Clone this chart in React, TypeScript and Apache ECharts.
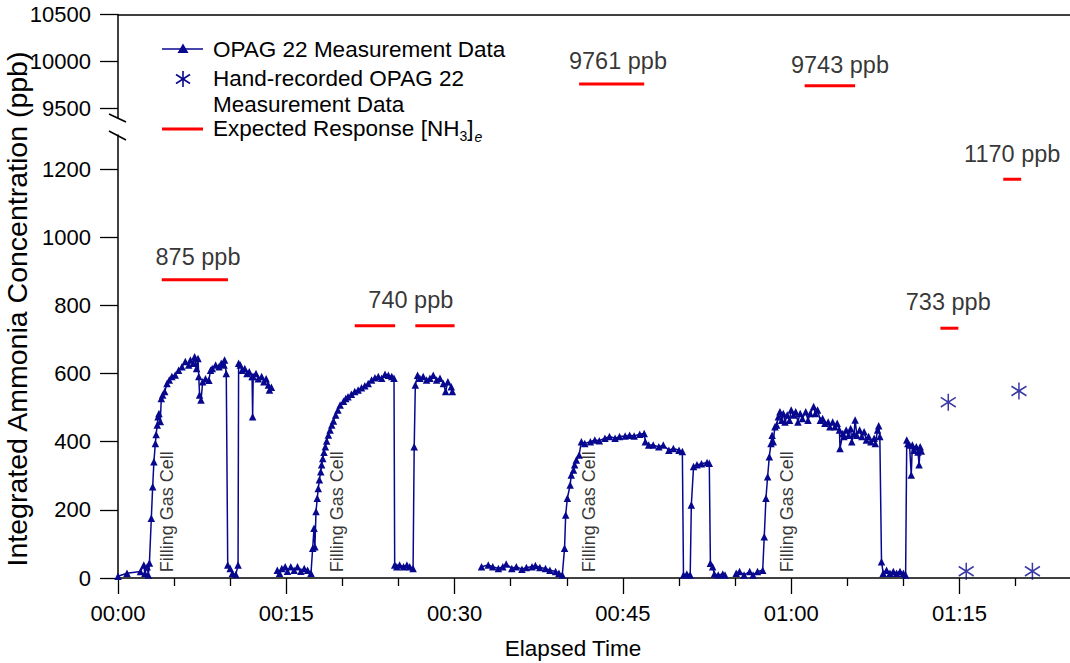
import React, { useEffect, useRef } from "react";
import * as echarts from "echarts";

// ---- data (elapsed minutes, ppb) ----
const seg1: number[][] = [
  [0, 5], [0.8, 14], [2.0, 19], [2.3, 38], [2.4, 14], [2.6, 33], [2.7, 9], [2.8, 44], [2.97, 175], [3.09, 268],
  [3.2, 341], [3.33, 395], [3.4, 421], [3.5, 449], [3.57, 473], [3.65, 483], [3.77, 459], [3.86, 527], [3.98, 537],
  [4.16, 547], [4.37, 571], [4.57, 581], [4.8, 591], [5.1, 596], [5.4, 610], [5.7, 620], [6.0, 635], [6.3, 625],
  [6.45, 640], [6.7, 630], [6.83, 649], [7.0, 615], [7.13, 644], [7.2, 591], [7.27, 537], [7.4, 522], [7.55, 576],
  [7.8, 585], [8.1, 580], [8.25, 610], [8.4, 615], [8.7, 625], [9.0, 620], [9.2, 630], [9.45, 625], [9.5, 640],
  [9.65, 600], [9.78, 38], [10.0, 28], [10.2, 14], [10.5, 10], [10.7, 38], [10.75, 630], [10.9, 625], [11.05, 610],
  [11.3, 615], [11.5, 600], [11.7, 605], [11.95, 591], [12.0, 473], [12.05, 591], [12.3, 600], [12.5, 585],
  [12.8, 591], [13.0, 576], [13.2, 585], [13.4, 566], [13.5, 552], [13.67, 560],
];
const seg2: number[][] = [
  [14.2, 23], [14.4, 14], [14.6, 28], [14.9, 33], [15.1, 20], [15.4, 33], [15.7, 23], [16.0, 33], [16.3, 20],
  [16.6, 28], [16.9, 23], [17.2, 14], [17.35, 87], [17.47, 146], [17.55, 92], [17.65, 195], [17.76, 234],
  [17.85, 263], [17.95, 288], [18.07, 312], [18.15, 332], [18.25, 351], [18.36, 369], [18.48, 385], [18.6, 402],
  [18.75, 420], [18.9, 434], [19.05, 449], [19.2, 461], [19.4, 478], [19.6, 493], [19.8, 508], [20.1, 519],
  [20.3, 527], [20.5, 532], [20.8, 539], [21.1, 547], [21.4, 552], [21.7, 558], [22.0, 564], [22.3, 571],
  [22.6, 581], [22.9, 588], [23.2, 591], [23.5, 586], [23.8, 598], [24.1, 595], [24.4, 591], [24.6, 586],
  [24.66, 38], [24.85, 33], [25.1, 38], [25.45, 33], [25.75, 38], [26.0, 33], [26.3, 28], [26.4, 385], [26.5, 566],
  [26.7, 595], [26.9, 586], [27.2, 591], [27.5, 581], [27.8, 586], [28.1, 595], [28.4, 581], [28.7, 586],
  [29.0, 571], [29.2, 547], [29.4, 576], [29.7, 561], [29.8, 547],
];
const seg3: number[][] = [
  [32.4, 33], [33.0, 38], [33.4, 33], [33.9, 28], [34.3, 33], [34.6, 41], [35.1, 28], [35.5, 33], [36.0, 26],
  [36.4, 31], [36.9, 33], [37.2, 37], [37.6, 31], [38.1, 28], [38.5, 23], [39.0, 19], [39.3, 14], [39.6, 9],
  [39.8, 87], [39.9, 185], [40.05, 234], [40.3, 273], [40.4, 302], [40.6, 317], [40.7, 332], [40.85, 346],
  [41.1, 361], [41.3, 400], [41.6, 395], [42.1, 400], [42.5, 405], [42.9, 403], [43.4, 410], [43.8, 415],
  [44.3, 410], [44.7, 415], [45.2, 417], [45.6, 419], [46.0, 417], [46.5, 422], [46.9, 424], [47.0, 400],
  [47.3, 390], [47.7, 390], [48.2, 385], [48.6, 390], [49.1, 375], [49.5, 380], [50.0, 375], [50.3, 371],
  [50.4, 9], [50.7, 12], [51.0, 9], [51.1, 214], [51.3, 327], [51.6, 332], [52.0, 335], [52.5, 339], [52.7, 337],
  [52.8, 43], [53.0, 33], [53.15, 12], [53.5, 9], [53.9, 12], [54.1, 9],
];
const seg4: number[][] = [
  [55.1, 14], [55.4, 19], [55.8, 9], [56.3, 19], [56.6, 9], [57.0, 19], [57.46, 23], [57.6, 121], [57.75, 234],
  [57.9, 297], [58.05, 356], [58.2, 395], [58.3, 419], [58.4, 400], [58.55, 444], [58.7, 449], [58.85, 473],
  [59.0, 488], [59.15, 463], [59.3, 483], [59.45, 458], [59.65, 478], [59.85, 463], [60.0, 493], [60.2, 478],
  [60.4, 488], [60.6, 458], [60.8, 483], [61.0, 468], [61.3, 488], [61.5, 463], [61.7, 483], [62.0, 503],
  [62.15, 483], [62.35, 493], [62.6, 463], [62.8, 468], [63.0, 454], [63.3, 458], [63.45, 444], [63.7, 458],
  [63.9, 444], [64.1, 454], [64.3, 434], [64.35, 380], [64.6, 424], [64.7, 415], [64.9, 434], [65.1, 419],
  [65.3, 439], [65.4, 400], [65.6, 424], [65.7, 464], [65.85, 419], [66.1, 434], [66.3, 415], [66.5, 429],
  [66.7, 405], [66.9, 415], [67.1, 400], [67.4, 410], [67.5, 395], [67.7, 434], [67.8, 447], [67.9, 415],
  [68.05, 48], [68.2, 14], [68.5, 23], [68.8, 14], [69.1, 19], [69.4, 14], [69.7, 19], [70.0, 14], [70.2, 9],
  [70.3, 405], [70.4, 395], [70.55, 390], [70.7, 302], [70.8, 390], [70.95, 375], [71.15, 385], [71.3, 370],
  [71.4, 332], [71.5, 385], [71.6, 373],
];
const handRecorded: number[][] = [[74.0, 516], [75.6, 20], [80.3, 549], [81.5, 20]];

const expectedStart = [3.9, 21.1, 26.5, 41.1, 61.2, 73.3, 78.9];
const expectedEnd = [9.8, 24.7, 30.0, 46.9, 65.7, 74.9, 80.5];
const expectedValue = [875, 740, 740, 9761, 9743, 733, 1170];

const expectedLabelText = ["875 ppb", "740 ppb", "9761 ppb", "9743 ppb", "733 ppb", "1170 ppb"];
const expectedLabelAt: number[][] = [[7.13, 942], [26.1, 816], [44.56, 10006], [64.35, 9963], [74.0, 810], [79.7, 1244]];

const fillingTimes = [4.4, 19.5, 42.0, 59.6];
const fillingBase = 17;

const xMajorTicks = [0, 15, 30, 45, 60, 75];
const xMinorTicks = [5, 10, 20, 25, 35, 40, 50, 55, 65, 70, 80];
const yLowerTicks = [0, 200, 400, 600, 800, 1000, 1200];
const yUpperTicks = [9500, 10000, 10500];

const FONT = "'Liberation Sans', Arial, Helvetica, sans-serif";
const BLUE = "#08088f";
const RED = "#ff0000";
const ASTERISK = "path://M0,-8L0,8M-7,-4.5L7,4.5M-7,4.5L7,-4.5";

function fmtTime(m: number) {
  const h = Math.floor(m / 60);
  const mm = Math.round(m - h * 60);
  return String(h).padStart(2, "0") + ":" + String(mm).padStart(2, "0");
}

function measure(text: string, font: string) {
  const c = document.createElement("canvas").getContext("2d");
  if (!c) return text.length * 10;
  c.font = font;
  return c.measureText(text).width;
}

export default function App() {
  const ref = useRef<HTMLDivElement>(null);
  useEffect(() => {
    document.body.style.margin = "0";
    if (!ref.current) return;
    const chart = echarts.init(ref.current, undefined, { renderer: "svg" });

    const segStyle = (data: number[][]) => ({
      type: "line",
      xAxisIndex: 0,
      yAxisIndex: 0,
      data,
      symbol: "triangle",
      symbolSize: 7.5,
      showSymbol: true,
      lineStyle: { color: BLUE, width: 1.5 },
      itemStyle: { color: BLUE },
      z: 3,
    });

    const expectedSeries = expectedValue.map((v, i) => {
      const upper = v > 5000;
      return {
        type: "line",
        xAxisIndex: upper ? 2 : 0,
        yAxisIndex: upper ? 1 : 0,
        data: [[expectedStart[i], v], [expectedEnd[i], v]],
        symbol: "none",
        lineStyle: { color: RED, width: 3 },
        z: 4,
      };
    });

    const lowerLabels: any[] = [];
    const upperLabels: any[] = [];
    expectedLabelAt.forEach((p, i) => {
      const item = { value: [p[0], p[1]], name: expectedLabelText[i] };
      if (p[1] > 5000) upperLabels.push(item);
      else lowerLabels.push(item);
    });
    const labelSeries = (data: any[], upper: boolean) => ({
      type: "scatter",
      xAxisIndex: upper ? 2 : 0,
      yAxisIndex: upper ? 1 : 0,
      data,
      symbolSize: 1,
      itemStyle: { color: "rgba(0,0,0,0)" },
      label: {
        show: true,
        position: "inside",
        formatter: (p: any) => p.name,
        color: "#000",
        fontSize: 23.5,
        fontFamily: FONT,
      },
      z: 5,
    });

    const fillingSeries = {
      type: "scatter",
      xAxisIndex: 0,
      yAxisIndex: 0,
      data: fillingTimes.map((t) => [t, fillingBase]),
      symbolSize: 1,
      itemStyle: { color: "rgba(0,0,0,0)" },
      label: {
        show: true,
        position: "inside",
        rotate: 90,
        align: "left",
        verticalAlign: "middle",
        formatter: "Filling Gas Cell",
        color: "#000",
        fontSize: 18,
        fontFamily: FONT,
      },
      z: 5,
    };

    const handSeries = {
      type: "scatter",
      xAxisIndex: 0,
      yAxisIndex: 0,
      data: handRecorded,
      symbol: ASTERISK,
      symbolSize: [15, 17],
      itemStyle: { color: "rgba(0,0,0,0)", borderColor: BLUE, borderWidth: 1.6 },
      z: 4,
    };

    // legend text with subscripts
    const legFont = `22.5px ${FONT}`;
    const subFont = `14px ${FONT}`;
    const mainTxt = "Expected Response [NH";
    const w1 = measure(mainTxt, legFont);
    const w3 = measure("3", subFont);
    const wBr = measure("]", legFont);
    const xL = 213;

    const axisFontStyle = { color: "#000", fontSize: 22, fontFamily: FONT };

    const option: any = {
      animation: false,
      backgroundColor: "#fff",
      grid: [
        { left: 118, top: 135, width: 952, height: 443 },
        { left: 118, top: 14.5, width: 952, height: 103.5 },
      ],
      xAxis: [
        {
          type: "value",
          gridIndex: 0,
          min: 0,
          max: 84.85,
          position: "bottom",
          axisLine: { show: true, onZero: false, lineStyle: { color: "#000", width: 1.5 } },
          axisTick: { show: true, length: 16, customValues: xMajorTicks, lineStyle: { color: "#000", width: 1.3 } },
          axisLabel: { show: true, customValues: xMajorTicks, margin: 24, formatter: (v: number) => fmtTime(v), ...axisFontStyle },
          splitLine: { show: false },
        },
        {
          type: "value",
          gridIndex: 0,
          min: 0,
          max: 84.85,
          position: "bottom",
          axisLine: { show: false, onZero: false },
          axisTick: { show: true, length: 8, customValues: xMinorTicks, lineStyle: { color: "#000", width: 1.3 } },
          axisLabel: { show: false },
          splitLine: { show: false },
        },
        {
          type: "value",
          gridIndex: 1,
          min: 0,
          max: 84.85,
          position: "top",
          axisLine: { show: true, onZero: false, lineStyle: { color: "#000", width: 1.5 } },
          axisTick: { show: false },
          axisLabel: { show: false },
          splitLine: { show: false },
        },
      ],
      yAxis: [
        {
          type: "value",
          gridIndex: 0,
          min: 0,
          max: 1300,
          axisLine: { show: true, onZero: false, lineStyle: { color: "#000", width: 1.5 } },
          axisTick: { show: true, length: 18, customValues: yLowerTicks, lineStyle: { color: "#000", width: 1.3 } },
          axisLabel: { show: true, customValues: yLowerTicks, margin: 27, formatter: (v: number) => String(v), ...axisFontStyle },
          splitLine: { show: false },
        },
        {
          type: "value",
          gridIndex: 1,
          min: 9400,
          max: 10500,
          axisLine: { show: true, onZero: false, lineStyle: { color: "#000", width: 1.5 } },
          axisTick: { show: true, length: 18, customValues: yUpperTicks, lineStyle: { color: "#000", width: 1.3 } },
          axisLabel: { show: true, customValues: yUpperTicks, margin: 27, formatter: (v: number) => String(v), ...axisFontStyle },
          splitLine: { show: false },
        },
      ],
      series: [
        segStyle(seg1),
        segStyle(seg2),
        segStyle(seg3),
        segStyle(seg4),
        handSeries,
        ...expectedSeries,
        labelSeries(lowerLabels, false),
        labelSeries(upperLabels, true),
        fillingSeries,
      ],
      graphic: [
        // axis break marks
        { type: "line", shape: { x1: 109, y1: 114, x2: 126, y2: 122 }, style: { stroke: "#000", lineWidth: 1.5 }, z: 10 },
        { type: "line", shape: { x1: 109, y1: 131, x2: 126, y2: 140 }, style: { stroke: "#000", lineWidth: 1.5 }, z: 10 },
        // y axis title
        {
          type: "text",
          x: 17,
          y: 309,
          rotation: Math.PI / 2,
          style: { text: "Integrated Ammonia Concentration (ppb)", fill: "#000", font: `28.5px ${FONT}`, align: "center", verticalAlign: "middle" },
        },
        // x axis title
        {
          type: "text",
          x: 573,
          y: 648,
          style: { text: "Elapsed Time", fill: "#000", font: `22.5px ${FONT}`, align: "center", verticalAlign: "middle" },
        },
        // legend row 1
        { type: "line", shape: { x1: 162, y1: 49, x2: 203, y2: 49 }, style: { stroke: BLUE, lineWidth: 1.5 }, z: 10 },
        { type: "polygon", shape: { points: [[183, 43.5], [177.5, 53], [188.5, 53]] }, style: { fill: BLUE }, z: 10 },
        { type: "text", x: xL, y: 49, style: { text: "OPAG 22 Measurement Data", fill: "#000", font: legFont, verticalAlign: "middle" }, z: 10 },
        // legend row 2 (asterisk)
        { type: "line", shape: { x1: 183, y1: 71, x2: 183, y2: 87 }, style: { stroke: BLUE, lineWidth: 1.6 }, z: 10 },
        { type: "line", shape: { x1: 176, y1: 74.5, x2: 190, y2: 83.5 }, style: { stroke: BLUE, lineWidth: 1.6 }, z: 10 },
        { type: "line", shape: { x1: 176, y1: 83.5, x2: 190, y2: 74.5 }, style: { stroke: BLUE, lineWidth: 1.6 }, z: 10 },
        { type: "text", x: xL, y: 78, style: { text: "Hand-recorded OPAG 22", fill: "#000", font: legFont, verticalAlign: "middle" }, z: 10 },
        { type: "text", x: xL, y: 104, style: { text: "Measurement Data", fill: "#000", font: legFont, verticalAlign: "middle" }, z: 10 },
        // legend row 4
        { type: "line", shape: { x1: 162, y1: 129, x2: 203, y2: 129 }, style: { stroke: RED, lineWidth: 3 }, z: 10 },
        { type: "text", x: xL, y: 128, style: { text: mainTxt, fill: "#000", font: legFont, verticalAlign: "middle" }, z: 10 },
        { type: "text", x: xL + w1, y: 136, style: { text: "3", fill: "#000", font: subFont, verticalAlign: "middle" }, z: 10 },
        { type: "text", x: xL + w1 + w3, y: 128, style: { text: "]", fill: "#000", font: legFont, verticalAlign: "middle" }, z: 10 },
        { type: "text", x: xL + w1 + w3 + wBr + 1, y: 137, style: { text: "e", fill: "#000", font: `italic ${subFont}`, verticalAlign: "middle" }, z: 10 },
      ],
    };
    chart.setOption(option);
    return () => chart.dispose();
  }, []);
  return <div ref={ref} style={{ width: 1070, height: 663 }} />;
}
